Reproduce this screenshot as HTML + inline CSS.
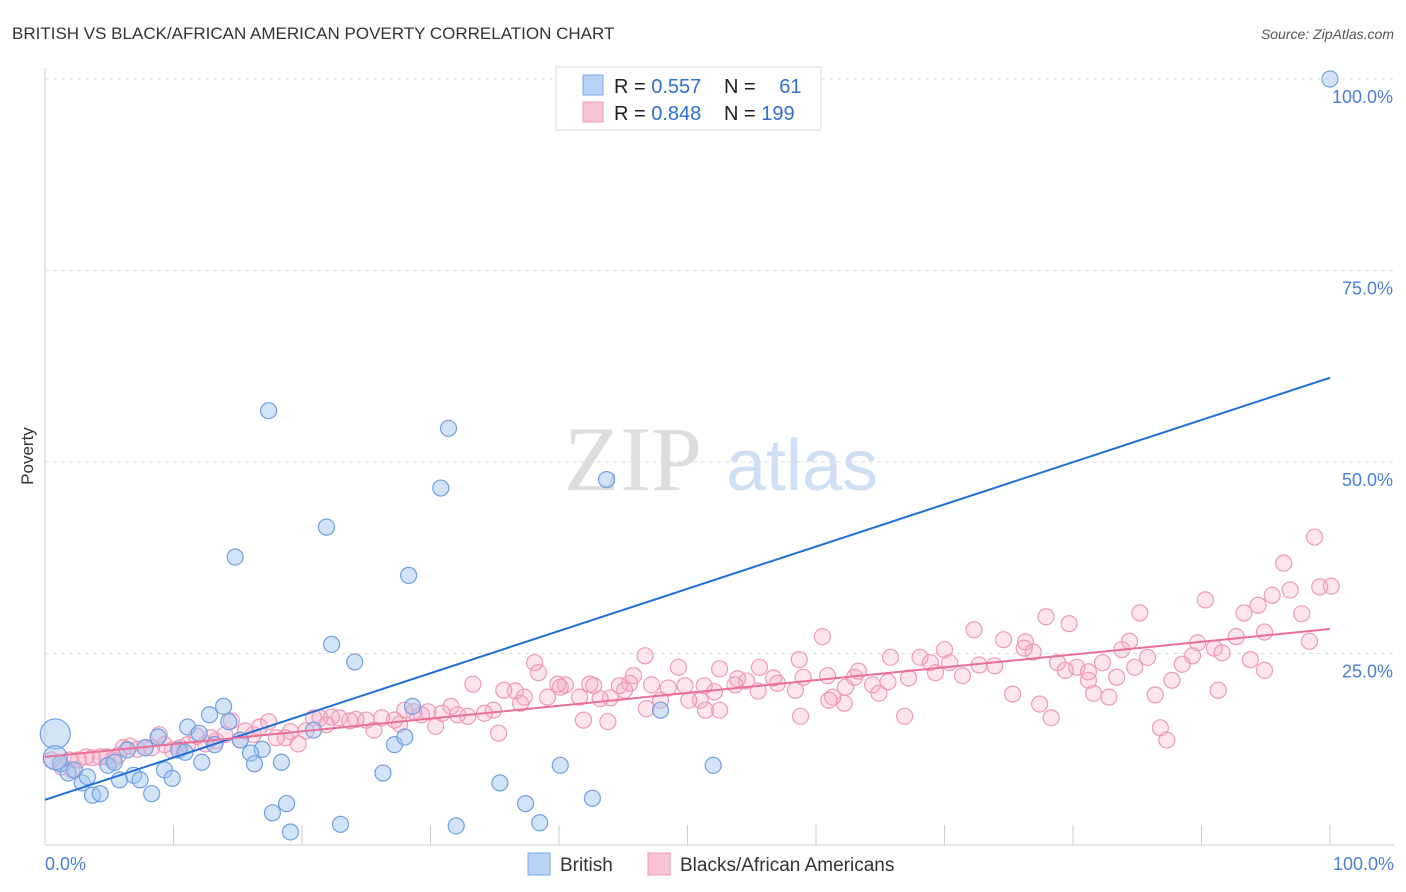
<!DOCTYPE html>
<html><head><meta charset="utf-8"><style>
body{margin:0;background:#fff;font-family:"Liberation Sans",sans-serif;}
svg{display:block}
</style></head><body>
<svg id="chart" width="1406" height="892">
<text x="12" y="39" font-size="17" fill="#333">BRITISH VS BLACK/AFRICAN AMERICAN POVERTY CORRELATION CHART</text>
<text x="1394" y="39" font-size="14" fill="#555" font-style="italic" text-anchor="end">Source: ZipAtlas.com</text>
<text x="33" y="456" font-size="17" fill="#333" transform="rotate(-90 33 456)" text-anchor="middle">Poverty</text>
<g><text x="633" y="490" font-size="92" fill="#ddd" font-family="Liberation Serif,serif" text-anchor="middle">ZIP</text><text x="802" y="490" font-size="72" fill="#cfe0f5" text-anchor="middle">atlas</text></g>
<g id="grid"></g><g id="pts"></g><g id="lines"></g>
<g>
<rect x="556" y="67" width="265" height="63" fill="#fff" stroke="#ddd"/>
<rect x="583" y="75" width="20" height="20" fill="#b8d3f5" stroke="#7aa9e6"/>
<rect x="583" y="102" width="20" height="20" fill="#f9c5d5" stroke="#ee9ab5"/>
<text x="614" y="93" font-size="20" fill="#222">R = <tspan fill="#2f6fd3">0.557</tspan></text>
<text x="724" y="93" font-size="20" fill="#222">N = <tspan fill="#2f6fd3" dx="18">61</tspan></text>
<text x="614" y="120" font-size="20" fill="#222">R = <tspan fill="#2f6fd3">0.848</tspan></text>
<text x="724" y="120" font-size="20" fill="#222">N = <tspan fill="#2f6fd3">199</tspan></text>
</g>
<g>
<rect x="528" y="853" width="22" height="22" fill="#b8d3f5" stroke="#7aa9e6"/>
<text x="560" y="871" font-size="19" fill="#333">British</text>
<rect x="648" y="853" width="22" height="22" fill="#f9c5d5" stroke="#ee9ab5"/>
<text x="680" y="871" font-size="19" fill="#333">Blacks/African Americans</text>
</g>
</svg>
<script>
const yTicks=[25,50,75,100];
const yTickLabels=["25.0%","50.0%","75.0%","100.0%"];
const xTickLabels=["0.0%","100.0%"];
const bluePx=[[1330,79],[268,411],[448,428],[441,488],[606,480],[327,527],[235,557],[409,575],[331,644],[355,662],[224,706],[210,715],[188,727],[229,722],[262,749],[250,753],[199,733],[254,764],[282,762],[313,730],[395,745],[405,737],[413,706],[383,773],[272,813],[286,804],[291,832],[341,824],[456,826],[500,783],[526,804],[540,823],[560,765],[593,798],[660,710],[713,765],[60,764],[68,773],[75,770],[82,783],[88,777],[93,795],[100,794],[108,765],[115,762],[120,780],[127,750],[134,775],[140,780],[145,748],[152,794],[158,737],[165,770],[172,778],[178,750],[185,752],[202,762],[215,745],[240,740]];
const pinkPx=[[1314,537],[1284,563],[1331,586],[1320,587],[1290,590],[1272,595],[1258,605],[1244,613],[1205,600],[1302,614],[1140,613],[1046,617],[1069,624],[1265,632],[1236,637],[1310,641],[1129,641],[1198,643],[1214,648],[1193,656],[1025,642],[1003,640],[974,630],[945,650],[920,657],[950,663],[979,665],[995,666],[1033,652],[1024,648],[1058,663],[1077,667],[1088,672],[1103,663],[1122,650],[1148,657],[1135,667],[1182,664],[1172,680],[1117,677],[1088,680],[1065,670],[1222,653],[1250,660],[1264,670],[1218,690],[1155,695],[1109,697],[1094,693],[1040,704],[1051,718],[1012,694],[963,676],[935,673],[930,663],[909,678],[891,657],[888,682],[855,677],[859,671],[872,685],[879,693],[845,687],[844,703],[833,697],[827,676],[822,637],[803,677],[799,660],[795,690],[778,683],[774,678],[760,667],[758,691],[746,681],[738,679],[735,685],[720,669],[715,692],[704,686],[700,700],[706,710],[689,700],[678,667],[685,686],[668,688],[660,700],[651,685],[645,656],[634,676],[630,683],[625,690],[619,686],[611,698],[600,699],[590,684],[594,686],[580,697],[566,685],[560,687],[548,697],[558,684],[535,663],[538,673],[524,697],[520,703],[515,691],[499,733],[504,690],[493,710],[484,713],[473,684],[468,716],[458,715],[451,706],[442,713],[436,726],[428,712],[422,715],[414,712],[405,710],[400,724],[394,720],[382,718],[374,730],[366,720],[356,719],[349,721],[339,718],[332,717],[326,725],[320,718],[313,718],[306,731],[298,744],[291,732],[285,738],[276,738],[268,722],[259,727],[253,735],[245,731],[240,740],[231,721],[225,735],[216,741],[211,738],[205,744],[197,736],[188,745],[180,748],[172,750],[165,745],[159,735],[152,748],[145,748],[138,749],[130,746],[124,748],[118,755],[113,760],[107,757],[100,757],[93,758],[86,757],[78,760],[70,760],[62,767],[52,760],[72,770],[608,722],[584,720],[646,709],[720,710],[800,716],[829,700],[905,716],[1160,728],[1167,740]];
const britishX=bluePx.map(p=>+((p[0]-45)/12.85).toFixed(1));
const britishY=bluePx.map(p=>+((845-p[1])/7.66).toFixed(1));
const blackX=pinkPx.map(p=>+((p[0]-45)/12.85).toFixed(1));
const blackY=pinkPx.map(p=>+((845-p[1])/7.66).toFixed(1));
const bigBritish=[[0.8,14.5,15],[0.8,11.4,12]];
const blueTrend=[5.9,61.0];
const pinkTrend=[11.5,28.2];
const X=v=>45+v*12.85, Y=v=>845-v*7.66;
const NS="http://www.w3.org/2000/svg";
function mk(t,a,p){const e=document.createElementNS(NS,t);for(const k in a)e.setAttribute(k,a[k]);p.appendChild(e);return e;}
const grid=document.getElementById('grid');
mk('line',{x1:45,y1:68,x2:45,y2:845,stroke:'#ccc'},grid);
mk('line',{x1:45,y1:845,x2:1394,y2:845,stroke:'#ccc'},grid);
yTicks.forEach((t,i)=>{
 const g=mk('line',{x1:45,y1:Y(t),x2:1394,y2:Y(t),stroke:'#ddd','stroke-dasharray':'4,4'},grid);
 
 
 const tx=mk('text',{x:1393,y:Y(t)+24,'font-size':18,fill:'#4a7fd4','text-anchor':'end'},grid);tx.textContent=yTickLabels[i];
 
 
});
for(let i=0;i<=10;i++){mk('line',{x1:X(i*10),y1:825,x2:X(i*10),y2:845,stroke:'#ccc'},grid);}
[[0,'start',45],[100,'end',1394]].forEach((d,i)=>{const t=mk('text',{x:d[2],y:870,'font-size':18,fill:'#4a7fd4','text-anchor':d[1]},grid);t.textContent=xTickLabels[i];
 
 });
const pts=document.getElementById('pts');
blackX.forEach((x,i)=>{const c=mk('circle',{cx:X(x),cy:Y(blackY[i]),r:8,fill:'rgba(244,170,196,0.3)',stroke:'#ef9ab6','stroke-width':1.2},pts);
 
 });
britishX.forEach((x,i)=>{const c=mk('circle',{cx:X(x),cy:Y(britishY[i]),r:8,fill:'rgba(160,196,240,0.45)',stroke:'#6fa0e2','stroke-width':1.2},pts);
 
 });
bigBritish.forEach(b=>{const c=mk('circle',{cx:X(b[0]),cy:Y(b[1]),r:b[2],fill:'rgba(160,196,240,0.45)',stroke:'#6fa0e2','stroke-width':1.2},pts);
 
 });
const lines=document.getElementById('lines');
const bl=mk('line',{x1:X(0),y1:Y(blueTrend[0]),x2:X(100),y2:Y(blueTrend[1]),stroke:'#1f6fd8','stroke-width':2},lines);


const pl=mk('line',{x1:X(0),y1:Y(pinkTrend[0]),x2:X(100),y2:Y(pinkTrend[1]),stroke:'#ea6f99','stroke-width':2},lines);


</script>
</body></html>
